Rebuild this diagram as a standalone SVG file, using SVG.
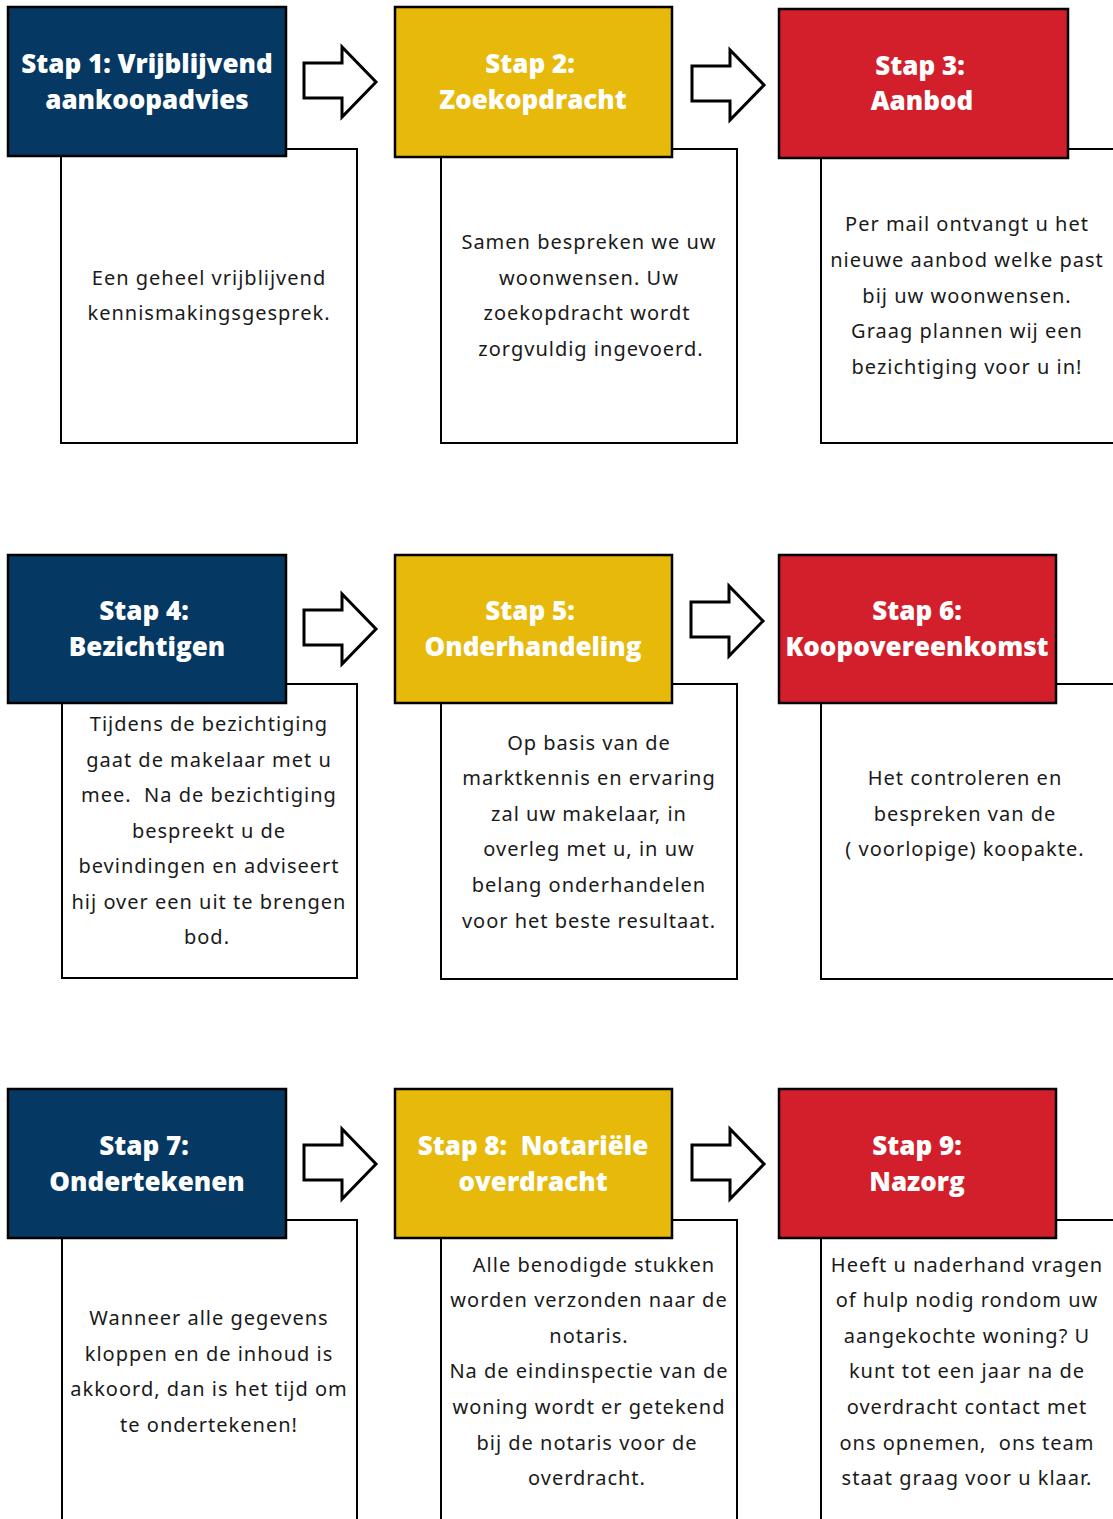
<svg xmlns="http://www.w3.org/2000/svg" width="1113" height="1519" viewBox="0 0 1113 1519">
<style>
.hd{stroke:#000;stroke-width:2.5}
.navy{fill:#053862}.yel{fill:#E6B90A}.red{fill:#D31F2B}
text{white-space:pre}
.ht{font-family:"Open Sans","Noto Sans",sans-serif;font-weight:800;font-size:26px;letter-spacing:0;fill:#fff;text-anchor:middle}
.bt{font-family:"Noto Sans","Open Sans",sans-serif;font-size:20px;letter-spacing:1px;fill:#1a1a1a;text-anchor:middle}
.ln{fill:none;stroke:#000;stroke-width:2}
.ar{fill:#fff;stroke:#000;stroke-width:3;stroke-linejoin:miter}
</style>
<defs>
<path id="arrow" class="ar" d="M0,16 H38 V0 L72,35 L38,70 V51 H0 Z"/>
</defs>
<rect width="1113" height="1519" fill="#fff"/>
<g id="connectors">
<use href="#arrow" x="304" y="47"/>
<use href="#arrow" x="692" y="50"/>
<use href="#arrow" x="304" y="594"/>
<use href="#arrow" x="691" y="586"/>
<use href="#arrow" x="304" y="1129"/>
<use href="#arrow" x="692" y="1129"/>
</g>
<g id="step1">
<path class="ln" d="M286,149 H357 V443 H61 V156"/>
<rect class="hd navy" x="8" y="7" width="278" height="149"/>
<text class="ht" x="147" y="73">Stap 1: Vrijblijvend</text>
<text class="ht" x="147" y="109">aankoopadvies</text>
<text class="bt" x="209" y="285">Een geheel vrijblijvend</text>
<text class="bt" x="209" y="320">kennismakingsgesprek.</text>
</g>
<g id="step2">
<path class="ln" d="M672,149 H737 V443 H441 V157"/>
<rect class="hd yel" x="395" y="7" width="277" height="150"/>
<text class="ht" x="530" y="73">Stap 2:</text>
<text class="ht" x="533" y="109">Zoekopdracht</text>
<text class="bt" x="589" y="249">Samen bespreken we uw</text>
<text class="bt" x="589" y="285">woonwensen. Uw</text>
<text class="bt" x="587" y="320">zoekopdracht wordt</text>
<text class="bt" x="591" y="356">zorgvuldig ingevoerd.</text>
</g>
<g id="step3">
<path class="ln" d="M1068,149 H1113 M1113,443 H821 V158"/>
<rect class="hd red" x="779" y="9" width="289" height="149"/>
<text class="ht" x="920" y="75">Stap 3:</text>
<text class="ht" x="922" y="110">Aanbod</text>
<text class="bt" x="967" y="231">Per mail ontvangt u het</text>
<text class="bt" x="967" y="267">nieuwe aanbod welke past</text>
<text class="bt" x="967" y="303">bij uw woonwensen.</text>
<text class="bt" x="967" y="338">Graag plannen wij een</text>
<text class="bt" x="967" y="374">bezichtiging voor u in!</text>
</g>
<g id="step4">
<path class="ln" d="M286,684 H357 V978 H62 V703"/>
<rect class="hd navy" x="8" y="555" width="278" height="148"/>
<text class="ht" x="144" y="620">Stap 4:</text>
<text class="ht" x="147" y="656">Bezichtigen</text>
<text class="bt" x="209" y="731">Tijdens de bezichtiging</text>
<text class="bt" x="209" y="767">gaat de makelaar met u</text>
<text class="bt" x="209" y="802">mee.  Na de bezichtiging</text>
<text class="bt" x="209" y="838">bespreekt u de</text>
<text class="bt" x="209" y="873">bevindingen en adviseert</text>
<text class="bt" x="209" y="909">hij over een uit te brengen</text>
<text class="bt" x="207" y="944">bod.</text>
</g>
<g id="step5">
<path class="ln" d="M672,684 H737 V979 H441 V703"/>
<rect class="hd yel" x="395" y="555" width="277" height="148"/>
<text class="ht" x="530" y="620">Stap 5:</text>
<text class="ht" x="533" y="656">Onderhandeling</text>
<text class="bt" x="589" y="750">Op basis van de</text>
<text class="bt" x="589" y="785">marktkennis en ervaring</text>
<text class="bt" x="589" y="821">zal uw makelaar, in</text>
<text class="bt" x="589" y="856">overleg met u, in uw</text>
<text class="bt" x="589" y="892">belang onderhandelen</text>
<text class="bt" x="589" y="928">voor het beste resultaat.</text>
</g>
<g id="step6">
<path class="ln" d="M1056,684 H1113 M1113,979 H821 V703"/>
<rect class="hd red" x="779" y="555" width="277" height="148"/>
<text class="ht" x="917" y="620">Stap 6:</text>
<text class="ht" x="917" y="656">Koopovereenkomst</text>
<text class="bt" x="965" y="785">Het controleren en</text>
<text class="bt" x="965" y="821">bespreken van de</text>
<text class="bt" x="965" y="856">( voorlopige) koopakte.</text>
</g>
<g id="step7">
<path class="ln" d="M286,1220 H357 V1519 M62,1519 V1238"/>
<rect class="hd navy" x="8" y="1089" width="278" height="149"/>
<text class="ht" x="144" y="1155">Stap 7:</text>
<text class="ht" x="147" y="1191">Ondertekenen</text>
<text class="bt" x="209" y="1325">Wanneer alle gegevens</text>
<text class="bt" x="209" y="1361">kloppen en de inhoud is</text>
<text class="bt" x="209" y="1396">akkoord, dan is het tijd om</text>
<text class="bt" x="209" y="1432">te ondertekenen!</text>
</g>
<g id="step8">
<path class="ln" d="M672,1220 H737 V1519 M441,1519 V1238"/>
<rect class="hd yel" x="395" y="1089" width="277" height="149"/>
<text class="ht" x="533" y="1155">Stap 8:  Notariële</text>
<text class="ht" x="533" y="1191">overdracht</text>
<text class="bt" x="594" y="1272">Alle benodigde stukken</text>
<text class="bt" x="589" y="1307">worden verzonden naar de</text>
<text class="bt" x="589" y="1343">notaris.</text>
<text class="bt" x="589" y="1378">Na de eindinspectie van de</text>
<text class="bt" x="589" y="1414">woning wordt er getekend</text>
<text class="bt" x="587" y="1450">bij de notaris voor de</text>
<text class="bt" x="587" y="1485">overdracht.</text>
</g>
<g id="step9">
<path class="ln" d="M1056,1220 H1113 M821,1519 V1238"/>
<rect class="hd red" x="779" y="1089" width="277" height="149"/>
<text class="ht" x="917" y="1155">Stap 9:</text>
<text class="ht" x="917" y="1191">Nazorg</text>
<text class="bt" x="967" y="1272">Heeft u naderhand vragen</text>
<text class="bt" x="967" y="1307">of hulp nodig rondom uw</text>
<text class="bt" x="967" y="1343">aangekochte woning? U</text>
<text class="bt" x="967" y="1378">kunt tot een jaar na de</text>
<text class="bt" x="967" y="1414">overdracht contact met</text>
<text class="bt" x="967" y="1450">ons opnemen,  ons team</text>
<text class="bt" x="967" y="1485">staat graag voor u klaar.</text>
</g>
</svg>
